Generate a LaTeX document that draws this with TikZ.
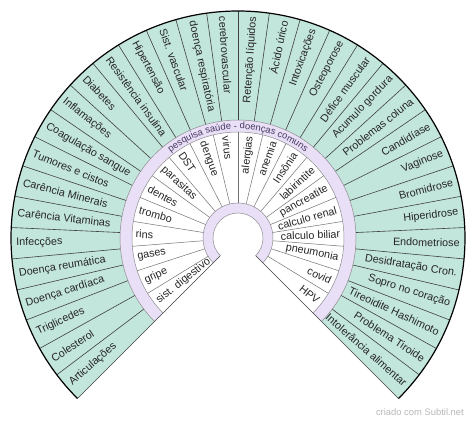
\documentclass[tikz,border=0pt]{standalone}
\usepackage{fontspec}
\setmainfont{Liberation Sans}
\usetikzlibrary{decorations.text}
\definecolor{mint}{RGB}{194,229,220}
\definecolor{lilac}{RGB}{233,224,248}
\definecolor{bandtext}{RGB}{70,55,95}

\begin{document}
\begin{tikzpicture}[
    x=1pt, y=1pt,
    outlbl/.style={inner sep=0pt, font=\fontsize{10.8}{12}\selectfont, text=black!85},
    midlbl/.style={inner sep=0pt, font=\fontsize{10.8}{12}\selectfont, text=black!85},
    divline/.style={draw=black!75, line width=0.6pt},
    midline/.style={draw=black!55, line width=0.5pt},
    ringline/.style={draw=black!45, line width=0.5pt},
    rim/.style={draw=black, line width=1.2pt}
]
\useasboundingbox (-238,-184) rectangle (236,238);
\fill[white] (-238,-184) rectangle (236,238);
\coordinate (c) at (0,0);

% filled rings
\fill[mint]  (c) -- (-45:227) arc[start angle=-45, end angle=225, radius=227] -- cycle;
\fill[lilac] (c) -- (-45:118) arc[start angle=-45, end angle=225, radius=118] -- cycle;
\fill[white] (c) -- (-45:106) arc[start angle=-45, end angle=225, radius=106] -- cycle;
\fill[lilac] (c) -- (-45:35) arc[start angle=-45, end angle=225, radius=35] -- cycle;
\fill[white] (c) circle (25);

% dividers
\foreach \k in {1,...,33}
    \draw[divline] ({225-\k*270/34}:118) -- ({225-\k*270/34}:227);
\foreach \k in {1,...,19}
    \draw[midline] ({225-\k*13.5}:35) -- ({225-\k*13.5}:106);
\foreach \r in {25,35,106,118}
    \draw[ringline] (-45:\r) arc[start angle=-45, end angle=225, radius=\r];
\draw[divline] (225:25) -- (225:227);
\draw[divline] (-45:25) -- (-45:227);
\draw[rim] (-45:227) arc[start angle=-45, end angle=225, radius=227];

% outer labels
\foreach \txt [count=\i] in {Articulações, Colesterol, Triglicedes, Doença cardíaca, Doença reumática, Infecções, Carência Vitaminas, Carência Minerais, Tumores e cistos, Coagulação sangue, Inflamações, Diabetes, Resistência insulina, Hipertensão, Sist. vascular, doença respiratória, cerebrovascular}
    \node[outlbl, anchor=west, rotate={225-(\i-0.5)*270/34+180}] (out-\i) at ({225-(\i-0.5)*270/34}:222) {\txt};
\foreach \txt [count=\i from 18] in {Retenção líquidos, Ácido úrico, Intoxicações, Osteoporose, Défice muscular, Acumulo gordura, Problemas coluna, Candidíase, Vaginose, Bromidrose, Hiperidrose, Endometriose, Desidratação Cron., Sopro no coração, Tireoidite Hashimoto, Problema Tiroide, Intolerância alimentar}
    \node[outlbl, anchor=east, rotate={225-(\i-0.5)*270/34}] (out-\i) at ({225-(\i-0.5)*270/34}:222) {\txt};

% inner labels
\foreach \txt [count=\i] in {sist. digestivo, gripe, gases, rins, trombo, dentes, parasitas, DST, dengue, virus}
    \node[midlbl, anchor=west, rotate={225-(\i-0.5)*13.5+180}] (mid-\i) at ({225-(\i-0.5)*13.5}:102.5) {\txt};
\foreach \txt [count=\i from 11] in {alergias, anemia, Insônia, labirintite, pancreatite, calculo renal, calculo biliar, pneumonia, covid, HPV}
    \node[midlbl, anchor=east, rotate={225-(\i-0.5)*13.5}] (mid-\i) at ({225-(\i-0.5)*13.5}:102.5) {\txt};

% band title
\path[decorate, decoration={text along path, text align=center, text color=bandtext,
    text={|\fontsize{9.4}{10}\selectfont|pesquisa saúde - doenças comuns}}]
    (135:109) arc[start angle=135, end angle=45, radius=109];

\node[anchor=base east, inner sep=0pt, font=\fontsize{9.4}{10}\selectfont, text=black!28] (credit) at (226,-178) {criado com Subtil.net};
\end{tikzpicture}
\end{document}
